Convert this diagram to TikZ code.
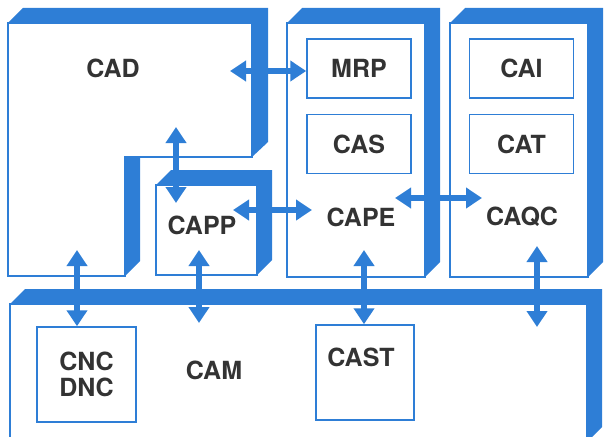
\documentclass[tikz,border=0pt]{standalone}
\usepackage{fontspec}
\setmainfont{TeX Gyre Heros}
\usepackage{tikz}
\usetikzlibrary{arrows.meta, positioning, calc}
\definecolor{cimblue}{HTML}{2E7ED6}
\definecolor{cimtext}{HTML}{333333}

\begin{document}
\begin{tikzpicture}[
  x=1pt, y=-1pt,
  sideface/.style={fill=cimblue},
  frontface/.style={fill=white, draw=cimblue, line width=1.5pt},
  lbl/.style={font=\bfseries\fontsize{25}{26}\selectfont, text=cimtext,
    inner sep=0pt},
  inbox/.style={frontface, lbl, minimum width=104pt, minimum height=59pt,
    align=center},
  link/.style={draw=cimblue, line width=6pt,
    {Triangle[width=20pt,length=16pt]}-{Triangle[width=20pt,length=16pt]}}
]
  \useasboundingbox (0,0) rectangle (609,436);
  \clip (0,0) rectangle (609,436);

  % CAD (L-shaped block)
  \fill[sideface] (8,23) -- (23,8) -- (268,8) -- (268,142) -- (252,157)
    -- (140,157) -- (140,261) -- (125,276) -- (8,276) -- cycle;
  \filldraw[frontface] (8,23) -- (252,23) -- (252,157) -- (125,157)
    -- (125,276) -- (8,276) -- cycle;

  % CAPP, CAPE, CAQC, CAM blocks
  \foreach \xa/\ya/\xb/\yb in {
    156/185/257/275, 287/23/425/277, 450/23/588/277, 10/304/587/442%
  }{
    \fill[sideface] (\xa,\ya) -- ++(15,-15) -- (\xb+15,\ya-15)
      -- (\xb+15,\yb-15) -- (\xb,\yb) -- (\xa,\yb) -- cycle;
    \filldraw[frontface] (\xa,\ya) rectangle (\xb,\yb);
  }

  % block labels
  \node[lbl] (cad) at (113,68) {CAD};
  \node[lbl] (capp) at (202,225) {CAPP};
  \node[lbl] (cape) at (361,217) {CAPE};
  \node[lbl] (caqc) at (522,217) {CAQC};
  \node[lbl] (cam) at (214,370) {CAM};

  % inner boxes
  \node[inbox] (mrp) at (359,68.5) {MRP};
  \node[inbox] (cas) at (359,144) {CAS};
  \node[inbox] (cai) at (521.5,68.5) {CAI};
  \node[inbox] (cat) at (521.5,144) {CAT};
  \node[inbox, minimum width=99pt, minimum height=95pt] (cnc)
    at (86.5,374.5) {CNC\\DNC};
  \node[inbox, minimum width=98pt, minimum height=95pt] (cast)
    at (365,372.5) {};
  \node[lbl] (castlbl) at (361,357) {CAST};

  % free arrow ends
  \coordinate (cadE) at (230,71);
  \coordinate (cadS) at (176,127);
  \coordinate (cappN) at (176,203);
  \coordinate (cappE) at (233,210);
  \coordinate (capeW) at (312,210);
  \coordinate (capeE) at (395,198);
  \coordinate (caqcW) at (482,198);
  \coordinate (cadB) at (77,250);
  \coordinate (cappB) at (199,250);
  \coordinate (camA) at (199,323);
  \coordinate (capeB) at (364,250);
  \coordinate (caqcB) at (537,246);
  \coordinate (camB) at (537,327);

  % links
  \draw[link] (cadE) -- (cadE -| mrp.west);
  \draw[link] (cadS) -- (cappN);
  \draw[link] (cappE) -- (capeW);
  \draw[link] (capeE) -- (caqcW);
  \draw[link] (cadB) -- (cadB |- cnc.north);
  \draw[link] (cappB) -- (camA);
  \draw[link] (capeB) -- (capeB |- cast.north);
  \draw[link] (caqcB) -- (camB);
\end{tikzpicture}
\end{document}
